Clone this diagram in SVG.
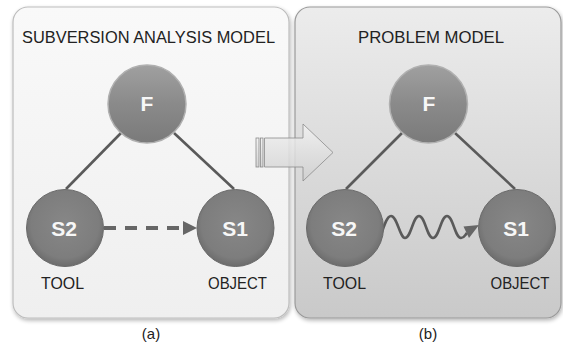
<svg xmlns="http://www.w3.org/2000/svg" width="563" height="347" viewBox="0 0 563 347">
  <defs>
    <linearGradient id="panelB" x1="0" y1="0" x2="0" y2="1">
      <stop offset="0" stop-color="#ececec"/>
      <stop offset="1" stop-color="#c9c9c9"/>
    </linearGradient>
    <linearGradient id="panelA" x1="0" y1="0" x2="0" y2="1">
      <stop offset="0" stop-color="#f9f9f9"/>
      <stop offset="1" stop-color="#efefef"/>
    </linearGradient>
    <radialGradient id="ball" cx="0.5" cy="0.45" r="0.55">
      <stop offset="0" stop-color="#878787"/>
      <stop offset="0.8" stop-color="#7d7d7d"/>
      <stop offset="1" stop-color="#6c6c6c"/>
    </radialGradient>
    <linearGradient id="ballF" x1="0" y1="0" x2="0" y2="1">
      <stop offset="0" stop-color="#a0a0a0"/>
      <stop offset="0.5" stop-color="#8a8a8a"/>
      <stop offset="1" stop-color="#7a7a7a"/>
    </linearGradient>
    <linearGradient id="blockArrow" x1="0" y1="0" x2="0" y2="1">
      <stop offset="0" stop-color="#f2f2f2"/>
      <stop offset="1" stop-color="#cfcfcf"/>
    </linearGradient>
    <filter id="shadow" x="-10%" y="-10%" width="120%" height="120%">
      <feGaussianBlur in="SourceAlpha" stdDeviation="2"/>
      <feOffset dx="1" dy="2"/>
      <feComponentTransfer><feFuncA type="linear" slope="0.3"/></feComponentTransfer>
      <feMerge><feMergeNode/><feMergeNode in="SourceGraphic"/></feMerge>
    </filter>
  </defs>
  <style>
    .title { font-family: "Liberation Sans", Arial, sans-serif; font-size: 16px; fill: #222; text-anchor: middle; }
    .role { font-family: "Liberation Sans", Arial, sans-serif; font-size: 16px; fill: #222; text-anchor: middle; }
    .cap { font-family: "Liberation Sans", Arial, sans-serif; font-size: 15px; fill: #222; text-anchor: middle; }
    .nodeText { font-family: "Liberation Sans", Arial, sans-serif; font-size: 21px; font-weight: bold; fill: #f7f7f7; text-anchor: middle; }
    .edge { stroke: #5a5a5a; stroke-width: 2.6; fill: none; }
    .ball { fill: url(#ball); stroke: #6a6a6a; stroke-width: 1; }
    .ballF { fill: url(#ballF); stroke: #b0b0b0; stroke-width: 1.5; }
  </style>

  <!-- panels -->
  <g id="panel-a">
    <rect x="13" y="7" width="276" height="311" rx="15" fill="url(#panelA)" stroke="#bdbdbd" stroke-width="1.2" filter="url(#shadow)"/>
    <text class="title" x="148.5" y="43" textLength="253" lengthAdjust="spacingAndGlyphs">SUBVERSION ANALYSIS MODEL</text>
  </g>
  <g id="panel-b">
    <rect x="295" y="7" width="266" height="311" rx="15" fill="url(#panelB)" stroke="#9a9a9a" stroke-width="1.2" filter="url(#shadow)"/>
    <text class="title" x="431" y="43" textLength="146" lengthAdjust="spacingAndGlyphs">PROBLEM MODEL</text>
  </g>

  <!-- connectors -->
  <g id="connectors">
    <line class="edge" x1="121" y1="133" x2="66" y2="189"/>
    <line class="edge" x1="174" y1="133" x2="234" y2="189"/>
    <line class="edge" x1="402" y1="133" x2="346" y2="189"/>
    <line class="edge" x1="455" y1="133" x2="515" y2="189"/>
    <!-- useful-action dashed link -->
    <line x1="104" y1="228" x2="184" y2="228" stroke="#666" stroke-width="4" stroke-dasharray="12,9"/>
    <polygon points="183,221 197,228 183,235" fill="#666"/>
    <!-- harmful wavy link -->
    <path class="edge" d="M378,244 C383,230 386,216 391,216 C397,216 400,238 405,238 C411,238 413,216 419,216 C425,216 427,238 433,238 C439,238 441,216 447,216 C453,216 455,238 461,238 C464,238 465,235 467,233"/>
    <polygon points="479,225 463.5,226.5 469,238" fill="#666"/>
  </g>

  <!-- block arrow from (a) to (b) -->
  <g id="transition-arrow" fill-opacity="0.85">
    <rect x="256" y="138" width="3" height="29" fill="url(#blockArrow)" stroke="#8a8a8a" stroke-width="0.8"/>
    <rect x="260.5" y="138" width="2.5" height="29" fill="url(#blockArrow)" stroke="#8a8a8a" stroke-width="0.8"/>
    <path d="M264.5,138 L303,138 L303,124 L333,152.5 L303,181 L303,167 L264.5,167 Z" fill="url(#blockArrow)" stroke="#8a8a8a" stroke-width="0.8"/>
  </g>

  <!-- nodes, left model -->
  <g id="a-F">
    <circle class="ballF" cx="147" cy="104" r="39"/>
    <text class="nodeText" x="147" y="111">F</text>
  </g>
  <g id="a-S2">
    <circle class="ball" cx="65" cy="228" r="38.5"/>
    <text class="nodeText" x="64" y="236">S2</text>
    <text class="role" x="62.5" y="289" textLength="43" lengthAdjust="spacingAndGlyphs">TOOL</text>
  </g>
  <g id="a-S1">
    <circle class="ball" cx="235.5" cy="228" r="38.5"/>
    <text class="nodeText" x="235" y="236">S1</text>
    <text class="role" x="237.5" y="289" textLength="59" lengthAdjust="spacingAndGlyphs">OBJECT</text>
  </g>

  <!-- nodes, right model -->
  <g id="b-F">
    <circle class="ballF" cx="428.5" cy="104" r="39"/>
    <text class="nodeText" x="429" y="111">F</text>
  </g>
  <g id="b-S2">
    <circle class="ball" cx="345" cy="228" r="38.5"/>
    <text class="nodeText" x="344" y="236">S2</text>
    <text class="role" x="344.5" y="289" textLength="43" lengthAdjust="spacingAndGlyphs">TOOL</text>
  </g>
  <g id="b-S1">
    <circle class="ball" cx="517" cy="228" r="38.5"/>
    <text class="nodeText" x="516" y="236">S1</text>
    <text class="role" x="520" y="289" textLength="59" lengthAdjust="spacingAndGlyphs">OBJECT</text>
  </g>

  <!-- captions -->
  <text class="cap" x="151" y="339">(a)</text>
  <text class="cap" x="428" y="339">(b)</text>
</svg>
